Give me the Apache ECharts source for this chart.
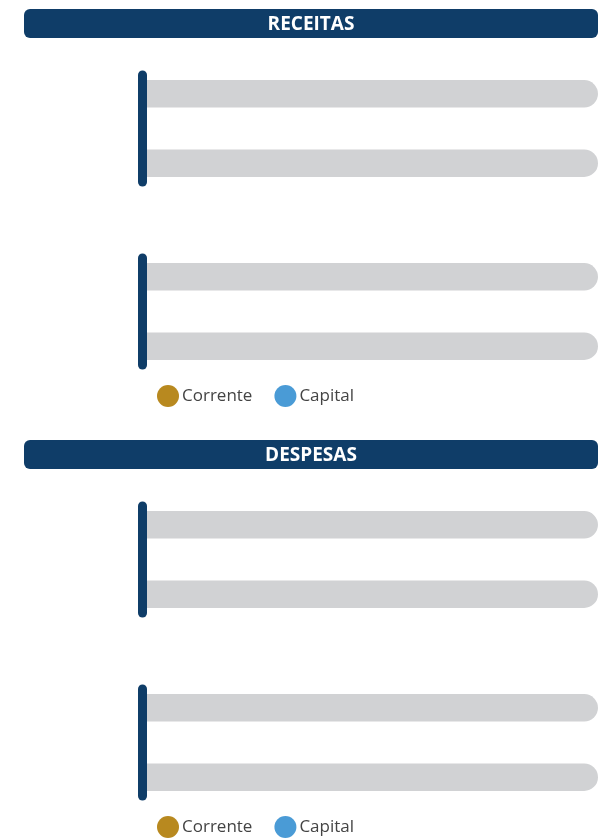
<!DOCTYPE html>
<html>
<head>
<meta charset="utf-8">
<script src="https://cdn.jsdelivr.net/npm/echarts@6/dist/echarts.min.js"></script>
<style>
  html, body { margin: 0; padding: 0; background: #fff; }
  #chart { width: 607px; height: 839px; }
</style>
</head>
<body>
<div id="chart"></div>
<script>
var sections = ["RECEITAS", "DESPESAS"];
var seriesNames = ["Corrente", "Capital"];
// one category per small panel, two panels per section
var categories = ["Receitas 1", "Receitas 2", "Despesas 1", "Despesas 2"];
// values are empty in the reference (only the grey tracks show)
var correnteValues = [0, 0, 0, 0];
var capitalValues = [0, 0, 0, 0];
var xMax = 100;

var navy = "#0f3d68";
var colors = ["#b8891f", "#4a9bd6"];
var gridTops = [75, 258, 506, 689];

var grids = [], xAxes = [], yAxes = [], series = [];
gridTops.forEach(function (top, i) {
  grids.push({ left: 142.5, right: 9, top: top, height: 107 });
  xAxes.push({
    type: "value", gridIndex: i, min: 0, max: xMax,
    show: false
  });
  yAxes.push({
    type: "category", gridIndex: i, data: [categories[i]], inverse: true, z: 5,
    axisLine: { show: true, lineStyle: { color: navy, width: 9, cap: "round" } },
    axisTick: { show: false },
    axisLabel: { show: false },
    splitLine: { show: false }
  });
  [correnteValues, capitalValues].forEach(function (vals, k) {
    series.push({
      name: seriesNames[k],
      type: "bar",
      xAxisIndex: i,
      yAxisIndex: i,
      z: 1,
      barWidth: 27.5,
      barGap: "152%",
      data: [vals[i]],
      itemStyle: { color: colors[k], borderRadius: [0, 14, 14, 0] },
      showBackground: true,
      backgroundStyle: { color: "#d1d2d4", borderRadius: [0, 14, 14, 0] }
    });
  });
});

function header(y, label) {
  return {
    type: "group",
    children: [
      { type: "rect", shape: { x: 24, y: y, width: 574, height: 29, r: 6 }, style: { fill: navy } },
      {
        type: "text", x: 311, y: y + 16,
        style: {
          text: label, fill: "#fff", font: "bold 19px 'Open Sans'",
          textAlign: "center", textVerticalAlign: "middle"
        }
      }
    ]
  };
}

function legend(top) {
  return {
    data: seriesNames, left: 157, top: top, padding: 0,
    icon: "circle", itemWidth: 22, itemHeight: 22, itemGap: 22,
    textStyle: { color: "#444", fontSize: 17, fontFamily: "Open Sans", padding: [0, 0, 0, -2] }
  };
}

var myChart = echarts.init(document.getElementById("chart"));
var option = {
  animation: false,
  color: colors,
  grid: grids,
  xAxis: xAxes,
  yAxis: yAxes,
  legend: [legend(385), legend(816)],
  graphic: [header(9, sections[0]), header(440, sections[1])],
  series: series
};
myChart.setOption(option);
</script>
</body>
</html>
